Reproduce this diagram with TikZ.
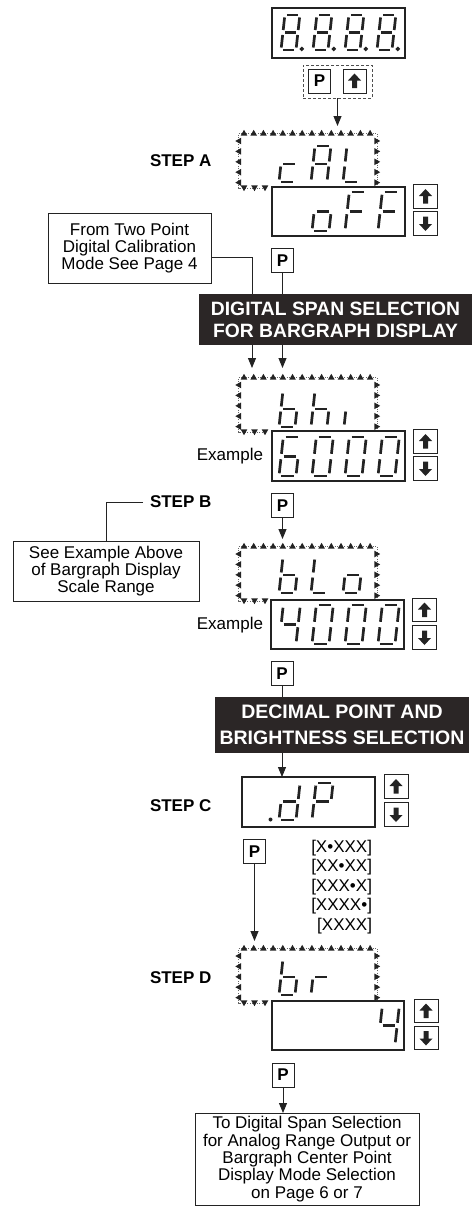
\documentclass[tikz,border=0pt]{standalone}
\usepackage{fontspec}
\setmainfont{Liberation Sans}
\usetikzlibrary{arrows.meta}
\definecolor{bannercol}{RGB}{43,38,38}
\definecolor{ink}{RGB}{35,35,35}
% seven-segment pieces (local units: x = width, y = height upward)
\def\sga{(0.14,1)--(0.86,1)}
\def\sgb{(1,0.93)--(1,0.57)}
\def\sgc{(1,0.43)--(1,0.07)}
\def\sgd{(0.14,0)--(0.86,0)}
\def\sge{(0,0.43)--(0,0.07)}
\def\sgf{(0,0.93)--(0,0.57)}
\def\sgg{(0.14,0.5)--(0.86,0.5)}
\def\sgp{(1.38,0.03) circle[radius=0.5pt]}
\newcommand\segdigit[5]{%
  \pgfmathsetmacro\dslant{0.11*#4}%
  \begin{scope}[shift={(#1,#2)},x={(#3pt,0pt)},y={(\dslant pt,#4pt)}]
    \foreach \sgn in {#5}{\draw[seg] \csname sg\sgn\endcsname;}
  \end{scope}}
\newcommand\triframe[1]{%
  \draw[dotline] (265,{#1+55}) -- (238.5,{#1+55}) -- (238.5,#1) -- (377,#1) -- (377,{#1+52});
  \foreach \i in {0,...,13} \fill[tri] ({244+\i*9.7},#1) ++(0,-3.2) -- ++(3.3,5.8) -- ++(-6.6,0) -- cycle;
  \foreach \i in {0,...,4} {\fill[tri] (238.5,{#1+8+\i*10.4}) ++(-3.2,0) -- ++(5.8,-3.3) -- ++(0,6.6) -- cycle;
     \fill[tri] (377,{#1+8+\i*10.4}) ++(3.2,0) -- ++(-5.8,-3.3) -- ++(0,6.6) -- cycle;}
  \foreach \i in {0,1,2} \fill[tri] ({244+\i*10.5},{#1+55}) ++(0,3.2) -- ++(3.3,-5.8) -- ++(-6.6,0) -- cycle;}
\newcommand\uparr[1]{\fill[glyph] (#1) ++(0,-7.5) -- ++(6.5,7) -- ++(-4,0) -- ++(0,7.5) -- ++(-5,0) -- ++(0,-7.5) -- ++(-4,0) -- cycle;}
\newcommand\dnarr[1]{\fill[glyph] (#1) ++(0,7.5) -- ++(6.5,-7) -- ++(-4,0) -- ++(0,-7.5) -- ++(-5,0) -- ++(0,7.5) -- ++(-4,0) -- cycle;}
\begin{document}
\begin{tikzpicture}[x=1pt,y=-1pt,
  every node/.style={inner sep=0pt, outer sep=0pt},
  txt/.style={font=\fontsize{17}{17}\selectfont, align=center},
  steplbl/.style={font=\fontsize{17}{17}\selectfont\bfseries, anchor=west},
  banner/.style={fill=bannercol, text=white, align=center},
  dbox/.style={draw=ink, line width=1.1pt},
  tbox/.style={draw=ink, line width=0.9pt, font=\fontsize{17}{17.2}\selectfont, align=center},
  pbtn/.style={draw=ink, line width=0.9pt, minimum width=22pt, minimum height=24pt, font=\fontsize{17}{17}\selectfont\bfseries},
  ubtn/.style={draw=ink, line width=0.9pt, minimum width=24pt, minimum height=23.5pt},
  seg/.style={draw=ink, line width=2.7pt},
  conn/.style={draw=ink, line width=0.9pt},
  arr/.style={conn, -{Triangle[length=10pt,width=8pt]}},
  tri/.style={fill=ink},
  dotline/.style={draw=ink!70, line width=0.5pt, dash pattern=on 0.8pt off 1.6pt},
  glyph/.style={fill=ink}]
\useasboundingbox (0,0) rectangle (475,1207);

% ---------- top display ----------
\node[dbox, minimum width=133pt, minimum height=50pt] (topd) at (338.5,33) {};
\foreach \xx in {281,313,345,377} {\segdigit{\xx}{50}{15}{35}{a,b,c,d,e,f,g,p}}
\node[draw=ink!80, line width=0.8pt, dash pattern=on 3pt off 2pt, minimum width=69pt, minimum height=33pt] (dash) at (337.5,81.5) {};
\node[pbtn] (pTop) at (319.5,81) {P};
\node[ubtn, minimum width=23pt, minimum height=24pt] (uTop) at (354.5,81) {};
\uparr{uTop}
\coordinate (tA) at (337.5,126);
\draw[arr] (dash.south) -- (tA);

% ---------- STEP A ----------
\node[steplbl] (stepA) at (150,161) {STEP A};
\triframe{133}
\segdigit{279}{182}{16}{36}{d,e,g}
\segdigit{311}{182}{16}{36}{a,b,c,e,f,g}
\segdigit{343}{182}{16}{36}{d,e,f}
\node[dbox, minimum width=133pt, minimum height=49pt] (dA) at (338.5,211.5) {};
\segdigit{312}{231}{17}{39}{c,d,e,g}
\segdigit{345}{231}{17}{39}{a,e,f,g}
\segdigit{378}{231}{17}{39}{a,e,f,g}
\node[ubtn] (uA) at (425.5,196.5) {}; \uparr{uA}
\node[ubtn] (dnA) at (425.5,223.5) {}; \dnarr{dnA}
\node[pbtn] (pA) at (282.5,260.5) {P};

\node[tbox, minimum width=163pt, minimum height=70pt] (fromB) at (129.5,248) {From Two Point\\Digital Calibration\\Mode See Page 4};

\coordinate (t1) at (252,368);
\coordinate (t2) at (282.5,368);
\draw[arr] ([yshift=-9pt]fromB.east) -| (t1);
\draw[arr] (pA.south) -- (t2);
\node[banner, font=\fontsize{19.3}{22}\selectfont\bfseries, minimum width=273pt, minimum height=51pt] (ban1) at (335.5,319.5) {DIGITAL SPAN SELECTION\\FOR BARGRAPH DISPLAY};

% ---------- bhi ----------
\triframe{377}
\segdigit{279}{427}{16}{36}{c,d,e,f,g}
\segdigit{311}{427}{16}{36}{c,e,f,g}
\segdigit{344}{427}{16}{36}{e}
\node[dbox, minimum width=133pt, minimum height=50pt] (dBhi) at (338.5,456) {};
\segdigit{279}{476}{17}{39}{a,c,d,e,f,g}
\segdigit{312}{476}{17}{39}{a,b,c,d,e,f}
\segdigit{345}{476}{17}{39}{a,b,c,d,e,f}
\segdigit{378}{476}{17}{39}{a,b,c,d,e,f}
\node[txt, anchor=east] (exA) at (263,456) {Example};
\node[ubtn] (uBhi) at (425.5,441.5) {}; \uparr{uBhi}
\node[ubtn] (dnBhi) at (425.5,468.5) {}; \dnarr{dnBhi}
\node[pbtn] (pB) at (282.5,505.5) {P};

% ---------- STEP B ----------
\node[steplbl] (stepB) at (150,502) {STEP B};
\node[tbox, minimum width=186pt, minimum height=60pt] (boxB) at (106,571) {See Example Above\\of Bargraph Display\\Scale Range};
\draw[conn] ([xshift=-7pt]stepB.west) -| (boxB.north);
\coordinate (tB) at (282.5,539);
\draw[arr] (pB.south) -- (tB);

% ---------- blo ----------
\triframe{546}
\segdigit{279}{593}{16}{36}{c,d,e,f,g}
\segdigit{311}{593}{16}{36}{d,e,f}
\segdigit{343}{593}{16}{36}{c,d,e,g}
\node[dbox, minimum width=133pt, minimum height=49pt] (dBlo) at (337.5,624.5) {};
\segdigit{279}{644}{17}{39}{b,c,f,g}
\segdigit{312}{644}{17}{39}{a,b,c,d,e,f}
\segdigit{345}{644}{17}{39}{a,b,c,d,e,f}
\segdigit{378}{644}{17}{39}{a,b,c,d,e,f}
\node[txt, anchor=east] (exB) at (263,625) {Example};
\node[ubtn] (uBlo) at (424.5,610) {}; \uparr{uBlo}
\node[ubtn] (dnBlo) at (424.5,637.5) {}; \dnarr{dnBlo}
\node[pbtn] (pE) at (282,673.5) {P};

% ---------- banner 2 ----------
\node[banner, font=\fontsize{19.5}{26}\selectfont\bfseries, minimum width=254pt, minimum height=56pt] (ban2) at (342,725) {DECIMAL POINT AND\\BRIGHTNESS SELECTION};

% ---------- STEP C ----------
\node[steplbl] (stepC) at (150,806) {STEP C};
\node[dbox, minimum width=133pt, minimum height=50pt] (dP) at (308.5,802) {};
\fill[ink] (270.5,819.5) circle[radius=2pt];
\segdigit{279}{820}{17}{37}{b,c,d,e,g}
\segdigit{312}{820}{17}{37}{a,b,e,f,g}
\node[ubtn] (uC) at (396,786.5) {}; \uparr{uC}
\node[ubtn] (dnC) at (396,814.5) {}; \dnarr{dnC}
\draw[conn] (pE.south) -- (pE.south |- ban2.north);
\draw[arr] (pE.south |- ban2.south) -- (pE.south |- dP.north);

\node[pbtn] (pC) at (254.5,851.5) {P};
\node[txt, align=right, anchor=east, font=\fontsize{17}{19.5}\selectfont] (dplist) at (372,887) {{[X•XXX]}\\{[XX•XX]}\\{[XXX•X]}\\{[XXXX•]}\\{[XXXX]}};
\coordinate (tC) at (254.5,941);
\draw[arr] (pC.south) -- (tC);

% ---------- STEP D ----------
\node[steplbl] (stepD) at (150,978) {STEP D};
\triframe{948}
\segdigit{279}{995}{16}{36}{c,d,e,f,g}
\segdigit{311}{995}{16}{36}{e,g}
\node[dbox, minimum width=132pt, minimum height=49pt] (dD) at (338,1025.5) {};
\segdigit{378}{1045}{17}{39}{b,c,f,g}
\node[ubtn] (uD) at (426,1011) {}; \uparr{uD}
\node[ubtn] (dnD) at (426,1038) {}; \dnarr{dnD}
\node[pbtn] (pD) at (283,1075) {P};

\node[tbox, minimum width=224pt, minimum height=92pt, font=\fontsize{17}{17.3}\selectfont] (final) at (307,1159) {To Digital Span Selection\\for Analog Range Output or\\Bargraph Center Point\\Display Mode Selection\\on Page 6 or 7};
\draw[arr] (pD.south) -- (pD.south |- final.north);
\end{tikzpicture}
\end{document}
